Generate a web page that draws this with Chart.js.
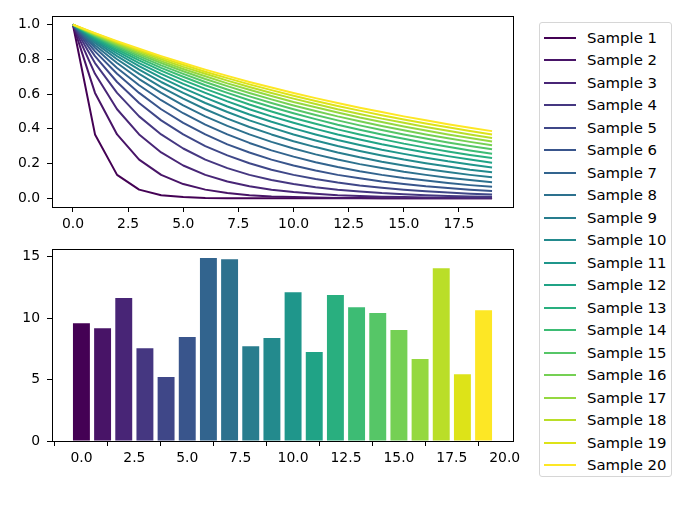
<!DOCTYPE html>
<html>
<head>
<meta charset="utf-8">
<script src="https://cdn.jsdelivr.net/npm/chart.js@4"></script>
<style>
  body { margin: 0; background: #fff; width: 698px; height: 523px; position: relative; overflow: hidden; }
  canvas { position: absolute; left: 0; }
  #lineChart { top: 0; }
  #barChart { top: 233px; }
  #legend {
    position: absolute; left: 539px; top: 22px; width: 133px; height: 455px;
    border: 1px solid #d6d6d6; border-radius: 3px; box-sizing: border-box;
    font-family: "DejaVu Sans", sans-serif; font-size: 14.9px; color: #000;
  }
  .item { position: absolute; left: 0; height: 20px; width: 130px; }
  .item span.swatch { position: absolute; left: 4px; top: 9px; width: 32px; height: 2px; }
  .item span.label { position: absolute; left: 47px; top: 1px; line-height: 18px; white-space: nowrap; }
</style>
</head>
<body>
<canvas id="lineChart" width="530" height="240"></canvas>
<canvas id="barChart" width="530" height="241"></canvas>
<div id="legend"></div>
<script>
// top panel: x positions and one series per sample
const xValues = [0, 1, 2, 3, 4, 5, 6, 7, 8, 9, 10, 11, 12, 13, 14, 15, 16, 17, 18, 19];
const seriesLabels = ["Sample 1", "Sample 2", "Sample 3", "Sample 4", "Sample 5", "Sample 6", "Sample 7", "Sample 8", "Sample 9", "Sample 10",
  "Sample 11", "Sample 12", "Sample 13", "Sample 14", "Sample 15", "Sample 16", "Sample 17", "Sample 18", "Sample 19", "Sample 20"];
const sample1 = [1, 0.368, 0.135, 0.050, 0.018, 0.007, 0.002, 0.001, 0, 0, 0, 0, 0, 0, 0, 0, 0, 0, 0, 0];
const sample2 = [1, 0.607, 0.368, 0.223, 0.135, 0.082, 0.050, 0.030, 0.018, 0.011, 0.007, 0.004, 0.002, 0.002, 0.001, 0.001, 0, 0, 0, 0];
const sample3 = [1, 0.717, 0.513, 0.368, 0.264, 0.189, 0.135, 0.097, 0.069, 0.050, 0.036, 0.026, 0.018, 0.013, 0.009, 0.007, 0.005, 0.003, 0.002, 0.002];
const sample4 = [1, 0.779, 0.607, 0.472, 0.368, 0.287, 0.223, 0.174, 0.135, 0.105, 0.082, 0.064, 0.050, 0.039, 0.030, 0.024, 0.018, 0.014, 0.011, 0.009];
const sample5 = [1, 0.819, 0.670, 0.549, 0.449, 0.368, 0.301, 0.247, 0.202, 0.165, 0.135, 0.111, 0.091, 0.074, 0.061, 0.050, 0.041, 0.033, 0.027, 0.022];
const sample6 = [1, 0.846, 0.717, 0.607, 0.513, 0.435, 0.368, 0.311, 0.264, 0.223, 0.189, 0.160, 0.135, 0.115, 0.097, 0.082, 0.069, 0.059, 0.050, 0.042];
const sample7 = [1, 0.867, 0.751, 0.651, 0.565, 0.490, 0.424, 0.368, 0.319, 0.276, 0.240, 0.208, 0.180, 0.156, 0.135, 0.117, 0.102, 0.088, 0.076, 0.066];
const sample8 = [1, 0.882, 0.779, 0.687, 0.607, 0.535, 0.472, 0.417, 0.368, 0.325, 0.287, 0.253, 0.223, 0.197, 0.174, 0.153, 0.135, 0.119, 0.105, 0.093];
const sample9 = [1, 0.895, 0.801, 0.717, 0.641, 0.574, 0.513, 0.459, 0.411, 0.368, 0.329, 0.295, 0.264, 0.236, 0.211, 0.189, 0.169, 0.151, 0.135, 0.121];
const sample10 = [1, 0.905, 0.819, 0.741, 0.670, 0.607, 0.549, 0.497, 0.449, 0.407, 0.368, 0.333, 0.301, 0.273, 0.247, 0.223, 0.202, 0.183, 0.165, 0.150];
const sample11 = [1, 0.913, 0.834, 0.761, 0.695, 0.635, 0.580, 0.529, 0.483, 0.441, 0.403, 0.368, 0.336, 0.307, 0.280, 0.256, 0.234, 0.213, 0.195, 0.178];
const sample12 = [1, 0.920, 0.846, 0.779, 0.717, 0.659, 0.607, 0.558, 0.513, 0.472, 0.435, 0.400, 0.368, 0.339, 0.311, 0.287, 0.264, 0.243, 0.223, 0.205];
const sample13 = [1, 0.926, 0.857, 0.794, 0.735, 0.681, 0.630, 0.584, 0.540, 0.500, 0.463, 0.429, 0.397, 0.368, 0.341, 0.315, 0.292, 0.270, 0.250, 0.232];
const sample14 = [1, 0.931, 0.867, 0.807, 0.751, 0.700, 0.651, 0.607, 0.565, 0.526, 0.490, 0.456, 0.424, 0.395, 0.368, 0.343, 0.319, 0.297, 0.276, 0.257];
const sample15 = [1, 0.936, 0.875, 0.819, 0.766, 0.717, 0.670, 0.627, 0.587, 0.549, 0.513, 0.480, 0.449, 0.420, 0.393, 0.368, 0.344, 0.322, 0.301, 0.282];
const sample16 = [1, 0.939, 0.882, 0.829, 0.779, 0.732, 0.687, 0.646, 0.607, 0.570, 0.535, 0.503, 0.472, 0.444, 0.417, 0.392, 0.368, 0.346, 0.325, 0.305];
const sample17 = [1, 0.943, 0.889, 0.838, 0.790, 0.745, 0.703, 0.662, 0.625, 0.589, 0.555, 0.524, 0.494, 0.465, 0.439, 0.414, 0.390, 0.368, 0.347, 0.327];
const sample18 = [1, 0.946, 0.895, 0.846, 0.801, 0.757, 0.717, 0.678, 0.641, 0.607, 0.574, 0.543, 0.513, 0.486, 0.459, 0.435, 0.411, 0.389, 0.368, 0.348];
const sample19 = [1, 0.949, 0.900, 0.854, 0.810, 0.769, 0.729, 0.692, 0.656, 0.623, 0.591, 0.561, 0.532, 0.505, 0.479, 0.454, 0.431, 0.409, 0.388, 0.368];
const sample20 = [1, 0.951, 0.905, 0.861, 0.819, 0.779, 0.741, 0.705, 0.670, 0.638, 0.607, 0.577, 0.549, 0.522, 0.497, 0.472, 0.449, 0.427, 0.407, 0.387];
const samples = [sample1, sample2, sample3, sample4, sample5, sample6, sample7, sample8, sample9, sample10,
  sample11, sample12, sample13, sample14, sample15, sample16, sample17, sample18, sample19, sample20];

// bottom panel
const barX = [0, 1, 2, 3, 4, 5, 6, 7, 8, 9, 10, 11, 12, 13, 14, 15, 16, 17, 18, 19];
const barValues = [9.58, 9.17, 11.62, 7.54, 5.2, 8.45, 14.87, 14.78, 7.71, 8.37,
  12.1, 7.23, 11.86, 10.88, 10.4, 9.02, 6.66, 14.05, 5.43, 10.64];

// tick labels
const lineXTicks = [0, 2.5, 5, 7.5, 10, 12.5, 15, 17.5];
const lineYTicks = [0, 0.2, 0.4, 0.6, 0.8, 1.0];
const barXTicks = [0, 2.5, 5, 7.5, 10, 12.5, 15, 17.5, 20];
const barYTicks = [0, 5, 10, 15];

const viridis = ["#440154", "#481467", "#482576", "#453781", "#3f4788", "#39558c", "#32648e", "#2d718e", "#287d8e", "#238a8d",
  "#1f968b", "#20a386", "#29af7f", "#3dbc74", "#56c667", "#75d054", "#95d840", "#bade28", "#dde318", "#fde725"];

Chart.defaults.font.family = "'DejaVu Sans', sans-serif";
Chart.defaults.font.size = 13.9;
Chart.defaults.color = "#000";

// box around the plot area, like matplotlib spines
const framePlugin = {
  id: "frame",
  afterDraw(chart) {
    const a = chart.chartArea;
    const c = chart.ctx;
    c.save();
    c.strokeStyle = "#000";
    c.lineWidth = 1;
    c.strokeRect(Math.round(a.left) + 0.5, Math.round(a.top) + 0.5, Math.round(a.right - a.left), Math.round(a.bottom - a.top));
    c.restore();
  }
};

function axis(min, max, ticks, fmt, size, isY) {
  return {
    type: "linear",
    min: min,
    max: max,
    offset: false,
    border: { display: false },
    grid: { display: true, drawOnChartArea: false, drawTicks: true, tickLength: 5, color: "#000", lineWidth: 1 },
    ticks: { padding: isY ? 7 : 4, callback: fmt, maxRotation: 0, autoSkip: false },
    afterBuildTicks: function (scale) { scale.ticks = ticks.map(v => ({ value: v })); },
    afterFit: function (scale) { if (isY) scale.width = size; else scale.height = size; }
  };
}

new Chart(document.getElementById("lineChart"), {
  type: "line",
  data: {
    datasets: samples.map((s, i) => ({
      label: seriesLabels[i],
      data: s.map((v, j) => ({ x: xValues[j], y: v })),
      borderColor: viridis[i],
      borderWidth: 2,
      borderJoinStyle: "round",
      pointRadius: 0,
      tension: 0,
      fill: false,
      order: 20 - i
    }))
  },
  options: {
    responsive: false,
    animation: false,
    devicePixelRatio: 1,
    layout: { padding: { top: 16, right: 17, left: 0, bottom: 0 } },
    plugins: { legend: { display: false }, tooltip: { enabled: false } },
    scales: {
      x: axis(-0.95, 19.95, lineXTicks, v => v.toFixed(1), 33, false),
      y: axis(-0.05, 1.05, lineYTicks, v => v.toFixed(1), 52, true)
    }
  },
  plugins: [framePlugin]
});

new Chart(document.getElementById("barChart"), {
  type: "bar",
  data: {
    datasets: [{
      data: barValues.map((v, i) => ({ x: barX[i], y: v })),
      backgroundColor: viridis,
      borderWidth: 0,
      barPercentage: 0.8,
      categoryPercentage: 1
    }]
  },
  options: {
    responsive: false,
    animation: false,
    devicePixelRatio: 1,
    layout: { padding: { top: 16, right: 17, left: 0, bottom: 0 } },
    plugins: { legend: { display: false }, tooltip: { enabled: false } },
    scales: {
      x: axis(-1.39, 20.39, barXTicks, v => v.toFixed(1), 33, false),
      y: axis(0, 15.61, barYTicks, v => String(v), 52, true)
    }
  },
  plugins: [framePlugin]
});

// legend for the line series
const legend = document.getElementById("legend");
seriesLabels.forEach((name, i) => {
  const row = document.createElement("div");
  row.className = "item";
  row.style.top = (4.5 + i * 22.5) + "px";
  row.innerHTML = '<span class="swatch" style="background:' + viridis[i] + '"></span><span class="label">' + name + "</span>";
  legend.appendChild(row);
});
</script>
</body>
</html>
